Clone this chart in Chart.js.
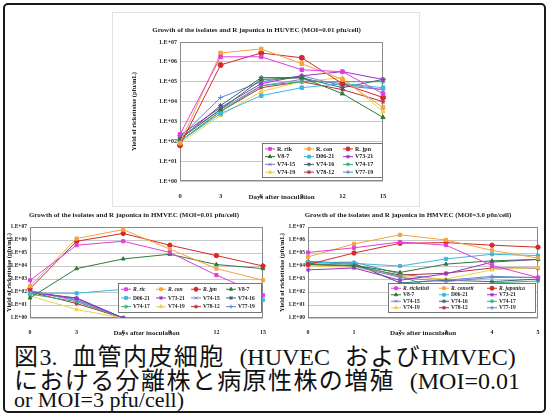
<!DOCTYPE html>
<html>
<head>
<meta charset="utf-8">
<script src="https://cdn.jsdelivr.net/npm/chart.js@4.4.0/dist/chart.umd.min.js"></script>
<style>
html, body { margin: 0; padding: 0; background: #fff; }
body { width: 549px; height: 416px; position: relative; overflow: hidden; }
#frame { position: absolute; left: 3px; top: 3px; width: 539px; height: 406px; border: 2px solid #1a1a1a; border-radius: 5px; }
#topFrame { position: absolute; left: 112px; top: 12px; width: 306px; height: 193px; border: 1px solid #e2e2e2; }
.box { position: absolute; }
canvas { display: block; }
.cap { position: absolute; left: 14px; font-family: "Noto Sans CJK JP", sans-serif; font-size: 24px; letter-spacing: 1.4px; line-height: 24px; height: 24px; color: #111; white-space: nowrap; }
.r { font-family: "Liberation Serif", serif; font-size: 24px; letter-spacing: 0; }
.g { display: inline-block; width: 8px; }
#cap3 { font-family: "Liberation Serif", serif; font-size: 22px; letter-spacing: 0; line-height: 20px; height: 20px; }
</style>
</head>
<body>
<div id="frame"></div>
<div id="topFrame"></div>
<div class="box" style="left:130px;top:20px"><canvas id="cTop" width="260" height="181"></canvas></div>
<div class="box" style="left:5px;top:205px"><canvas id="cLeft" width="265" height="132"></canvas></div>
<div class="box" style="left:278px;top:205px"><canvas id="cRight" width="265" height="132"></canvas></div>
<div class="cap" style="top:343px">図<span class="r">3.</span><span class="g"></span> 血管内皮細胞<span class="g"></span> <span class="r">(HUVEC</span><span class="g"></span> および<span class="r">HMVEC)</span></div>
<div class="cap" style="top:367px">における分離株と病原性株の増殖<span class="g"></span> <span class="r">(MOI=0.01</span></div>
<div class="cap" id="cap3" style="top:390px">or MOI=3 pfu/cell)</div>

<script>
// x categories
const daysLong = ['0', '3', '6', '9', '12', '15'];
const daysShort = ['0', '1', '2', '3', '4', '5'];
const yTicks = [1, 1e1, 1e2, 1e3, 1e4, 1e5, 1e6, 1e7];

const strainsTop = ['R. rik', 'R. con', 'R. jpn', 'V8-7', 'D06-21', 'V73-21', 'V74-15', 'V74-16', 'V74-17', 'V74-19', 'V78-12', 'V77-19'];
const strainsLeft = ['R. ric', 'R. con', 'R. jpn', 'V8-7', 'D06-21', 'V73-21', 'V74-15', 'V74-16', 'V74-17', 'V74-19', 'V78-12', 'V77-19'];
const strainsRight = ['R. rickettsii', 'R. conorii', 'R. japonica', 'V8-7', 'D06-21', 'V73-21', 'V74-15', 'V74-16', 'V74-17', 'V74-19', 'V78-12', 'V77-19'];

const colors = ['#e03fdc', '#f3a53a', '#d42a2a', '#2f7a3a', '#3cb8e0', '#9b30c8', '#8080cc', '#3a6478', '#33b070', '#ecd24a', '#b0303a', '#5a8ad0'];
const markers = ['rect', 'rect', 'circle', 'triangle', 'rect', 'star', 'crossRot', 'star', 'star', 'triangle', 'star', 'cross'];

// HUVEC, MOI=0.01 (pfu/mL)
const huvec = [
  [2.2e2, 1.8e6, 1.8e6, 4e5, 3.2e5, 2.5e4],
  [8e1, 2.8e6, 4.5e6, 8e5, 1.3e5, 5e3],
  [6.3e1, 7e5, 2.8e6, 1.6e6, 8e4, 1.6e4],
  [1.3e2, 4e3, 1.3e5, 1.6e5, 2.5e4, 1.6e3],
  [1e2, 2.5e3, 2e4, 5e4, 8e4, 5e4],
  [2e2, 5e3, 8e4, 2e5, 3.2e5, 1.3e5],
  [1.6e2, 4e3, 6.3e4, 1.3e5, 8e4, 4e4],
  [1.3e2, 6.3e3, 1.6e5, 1.6e5, 5e4, 1.3e5],
  [1e2, 3.2e3, 6.3e4, 1e5, 1e5, 1e5],
  [8e1, 2e3, 3.2e4, 1e5, 1.6e5, 3.2e3],
  [1e2, 3.2e3, 5e4, 1e5, 4e4, 1e4],
  [1.6e2, 1.6e4, 1e5, 2e5, 6.3e4, 4e4]
];

// HMVEC, MOI=0.01
const hmvecLow = [
  [7.9e2, 4e5, 8e5, 1.1e5, 2e3, 5.6e1],
  [2.8e2, 1.3e6, 6.3e6, 2e5, 6.3e3, 8e2],
  [1.8e2, 8e5, 3.2e6, 4e5, 6.3e4, 1e4],
  [3.5e1, 6.3e3, 3.5e4, 8e4, 1.3e4, 6.3e3],
  [8e1, 8e1, 1.6e2, 5.6e1, 1e2, 2.5e1],
  [1e2, 3.2e1, 1, null, null, null],
  [1.1e2, 2.2e1, 1, null, null, null],
  [9e1, 3.5e1, 1, null, null, null],
  [7e1, 1.8e1, 1, null, null, null],
  [5e1, 4.5, 1, null, null, null],
  [1e2, 1.3e1, 1, null, null, null],
  [1.3e2, 2.5e1, 1, null, null, null]
];

// HMVEC, MOI=3.0
const hmvecHigh = [
  [1.1e5, 2.5e5, 7e5, 4e5, 1.1e4, 1.3e3],
  [5e4, 5e5, 2.5e6, 1e6, 1.6e5, 4e4],
  [1.3e4, 1e5, 5.6e5, 6.3e5, 4e5, 2.8e5],
  [1.3e4, 1.1e4, 3.2e3, 1.4e4, 2.5e4, 3.2e4],
  [2e4, 1.6e4, 1e4, 3.5e4, 8e4, 6.3e4],
  [5e3, 7e3, 8e2, 2.5e3, 2e4, 3.2e4],
  [1.6e4, 1e4, 1.3e3, 6.3e2, 1.3e3, 1.3e3],
  [2.2e4, 1.6e4, 5e2, 8e2, 6.3e2, 1e3],
  [2e4, 1.3e4, 1.6e3, 1.1e2, 5e2, 7e2],
  [1e4, 8e3, 1.6e3, 1e3, 5e3, 8e3],
  [1.3e4, 1e4, 2e3, 2.8e3, 7e3, 7e3],
  [1.8e4, 2e4, 2.5e3, 8e2, 1.6e3, 1.3e3]
];

Chart.defaults.font.family = "'Liberation Serif', serif";
Chart.defaults.font.weight = 'bold';
Chart.defaults.color = '#222';

function expLabel(v) {
  const e = Math.round(Math.log10(v));
  return '1.E+' + String(e).padStart(2, '0');
}

// plot frame
const frameBox = {
  id: 'frameBox',
  beforeDatasetsDraw(chart) {
    const { ctx, chartArea: a } = chart;
    ctx.save();
    ctx.strokeStyle = '#8a8a8a';
    ctx.lineWidth = 1;
    ctx.strokeRect(a.left + 0.5, a.top + 0.5, a.right - a.left - 1, a.bottom - a.top - 1);
    ctx.restore();
  }
};

// legend drawn inside the plot, lower right
const areaLegend = {
  id: 'areaLegend',
  afterDatasetsDraw(chart, args, o) {
    const { ctx, chartArea: a } = chart;
    const sets = chart.data.datasets;
    const rows = Math.ceil(sets.length / o.cols);
    const h = rows * o.rowH + 4;
    const x0 = a.right - o.right - o.width;
    const y0 = a.bottom - o.bottom - h;
    const colW = (o.width - 4) / o.cols;
    ctx.save();
    ctx.fillStyle = '#fff';
    ctx.fillRect(x0, y0, o.width, h);
    ctx.strokeStyle = '#555';
    ctx.lineWidth = 0.8;
    ctx.strokeRect(x0 + 0.5, y0 + 0.5, o.width - 1, h - 1);
    ctx.textBaseline = 'middle';
    sets.forEach((ds, i) => {
      const cx = x0 + 3 + (i % o.cols) * colW;
      const cy = y0 + 2 + Math.floor(i / o.cols) * o.rowH + o.rowH / 2;
      ctx.strokeStyle = ds.borderColor;
      ctx.lineWidth = 1;
      ctx.beginPath();
      ctx.moveTo(cx, cy);
      ctx.lineTo(cx + 10, cy);
      ctx.stroke();
      ctx.fillStyle = ds.borderColor;
      Chart.helpers.drawPoint(ctx, { pointStyle: ds.pointStyle, radius: 2, borderWidth: 1 }, cx + 5, cy);
      ctx.fillStyle = '#222';
      const it = o.italic && i < 3 ? 'italic ' : '';
      ctx.font = it + 'bold ' + o.fontSize + "px 'Liberation Serif', serif";
      ctx.fillText(ds.label, cx + 12, cy + 0.3);
    });
    ctx.restore();
  }
};

function buildChart(id, title, labels, names, series, legendOpts, sizes) {
  return new Chart(document.getElementById(id), {
    type: 'line',
    data: {
      labels: labels,
      datasets: names.map((n, i) => ({
        label: n,
        data: series[i],
        borderColor: colors[i],
        backgroundColor: colors[i],
        pointStyle: markers[i],
        pointRadius: sizes.point,
        pointBorderWidth: 1,
        borderWidth: 1,
        tension: 0
      }))
    },
    options: {
      responsive: false,
      animation: false,
      layout: { padding: { right: sizes.padRight, left: 0, top: 0, bottom: 0 } },
      plugins: {
        legend: { display: false },
        tooltip: { enabled: false },
        title: {
          display: true,
          text: title,
          font: { size: 7, weight: 'bold' },
          padding: { top: 6, bottom: sizes.titleBottom }
        },
        areaLegend: legendOpts
      },
      scales: {
        x: {
          type: 'category',
          grid: { display: false },
          border: { display: false },
          ticks: { padding: 3, font: { size: sizes.tick }, maxRotation: 0, autoSkip: false },
          title: { display: true, text: 'Days after inoculation', font: { size: 7 }, padding: 0 },
          afterFit: s => { s.height = sizes.xHeight; }
        },
        y: {
          type: 'logarithmic',
          min: 1,
          max: 1e7,
          afterBuildTicks: s => { s.ticks = yTicks.map(v => ({ value: v })); },
          ticks: { callback: v => expLabel(v), font: { size: sizes.tick - 0.5 }, padding: 3 },
          grid: { color: '#c8c8c8', drawTicks: false },
          border: { display: false },
          title: { display: true, text: 'Yield of rickettsiae (pfu/mL)', font: { size: 6.5 }, padding: 0 },
          afterFit: s => { s.width = sizes.yWidth; }
        }
      }
    },
    plugins: [frameBox, areaLegend]
  });
}

buildChart('cTop', 'Growth of the isolates and R japonica in HUVEC (MOI=0.01 pfu/cell)',
  daysLong, strainsTop, huvec,
  { cols: 3, rowH: 7.75, width: 121, right: 0, bottom: 3, fontSize: 6, italic: false },
  { yWidth: 50, padRight: 7, titleBottom: 7.6, xHeight: 20, tick: 6.5, point: 2.5 });

buildChart('cLeft', 'Growth of the isolates and R japonica in HMVEC (MOI=0.01 pfu/cell)',
  daysLong, strainsLeft, hmvecLow,
  { cols: 4, rowH: 8.7, width: 144, right: 1, bottom: 5, fontSize: 5.5, italic: true },
  { yWidth: 25, padRight: 7, titleBottom: 7.6, xHeight: 19, tick: 6, point: 2.2 });

buildChart('cRight', 'Growth of the isolates and R japonica in HMVEC (MOI=3.0 pfu/cell)',
  daysShort, strainsRight, hmvecHigh,
  { cols: 3, rowH: 6.5, width: 148, right: 2, bottom: 5, fontSize: 5.5, italic: true },
  { yWidth: 30, padRight: 5, titleBottom: 7.6, xHeight: 19, tick: 6, point: 2.2 });
</script>
</body>
</html>
